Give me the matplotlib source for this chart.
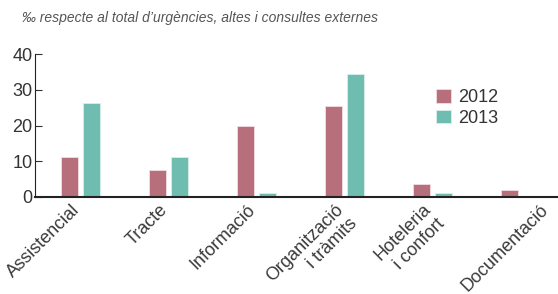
import matplotlib.pyplot as plt
import matplotlib.transforms as mtransforms
import numpy as np

plt.rcParams['font.family'] = ['Liberation Sans', 'DejaVu Sans']

categories = ["Assistencial", "Tracte", "Informació", "Organització\ni tràmits",
              "Hoteleria\ni confort", "Documentació"]
val_2012 = [11.1, 7.5, 19.9, 25.5, 3.6, 2.0]
val_2013 = [26.2, 11.1, 1.1, 34.5, 1.1, 0.0]
years = ["2012", "2013"]
colors = ["#b86f7c", "#6fbdb1"]

fig = plt.figure(figsize=(5.58, 2.94), dpi=100)
ax = fig.add_axes([0.063, 0.33, 0.937, 0.486])

x = np.arange(len(categories))
w = 0.19
ax.bar(x - 0.125, val_2012, w, color=colors[0], edgecolor="#f3dde1", linewidth=0.6, label=years[0])
ax.bar(x + 0.125, val_2013, w, color=colors[1], edgecolor="#d9f0ec", linewidth=0.6, label=years[1])

ax.set_xlim(-0.517, 5.43)
ax.set_ylim(0, 40)
ax.set_yticks([0, 10, 20, 30, 40])
ax.tick_params(axis='y', direction='in', length=5, labelsize=13, colors="#333333", pad=2)
ax.tick_params(axis='x', length=0, labelsize=13, colors="#3a3a3a", pad=3)
ax.set_xticks(x)
ax.set_xticklabels(categories, rotation=45, ha='right', rotation_mode='anchor',
                   multialignment='right')
# shift the rotated labels a bit to the left, the last one to the right
for i, lab in enumerate(ax.get_xticklabels()):
    dx = 14 / 72 if i == len(categories) - 1 else -7 / 72
    lab.set_transform(lab.get_transform() +
                      mtransforms.ScaledTranslation(dx, 0, fig.dpi_scale_trans))
for s in ["top", "right"]:
    ax.spines[s].set_visible(False)
ax.spines["left"].set_color("#222222")
ax.spines["bottom"].set_color("#222222")
ax.spines["bottom"].set_linewidth(1.5)

leg = ax.legend(loc="upper left", bbox_to_anchor=(0.75, 0.82), frameon=False,
                fontsize=13, handlelength=0.8, handleheight=0.8, handletextpad=0.4,
                labelspacing=0.2, borderpad=0)
for t in leg.get_texts():
    t.set_color("#333333")

fig.text(0.04, 0.94, "‰ respecte al total d’urgències, altes i consultes externes",
         fontsize=10, style="italic", color="#555555", va="center")

plt.savefig("out.png", dpi=100)
